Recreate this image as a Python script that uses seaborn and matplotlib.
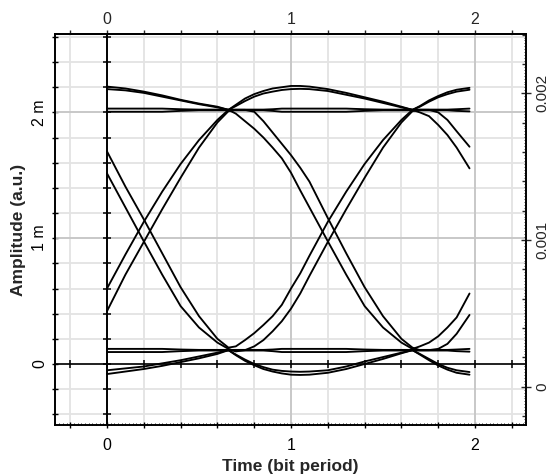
import numpy as np
import pandas as pd
import matplotlib
matplotlib.use("Agg")
import matplotlib.pyplot as plt
import seaborn as sns
from matplotlib.ticker import FixedLocator, FuncFormatter, NullLocator, NullFormatter

# ---------------- data (time in bit periods, amplitude in milli a.u.) ----------------
T = [0.0, 0.1, 0.2, 0.3, 0.4, 0.5, 0.6, 0.66, 0.7, 0.75, 0.8, 0.85, 0.9, 0.95, 1.0,
     1.05, 1.1, 1.2, 1.3, 1.4, 1.5, 1.6, 1.66, 1.7, 1.75, 1.8, 1.85, 1.9, 1.97]

OVER_A = [2.205, 2.19, 2.165, 2.135, 2.10, 2.07, 2.045, 2.02, 2.06, 2.11, 2.145, 2.17, 2.19, 2.20, 2.21,
          2.21, 2.205, 2.185, 2.155, 2.12, 2.085, 2.045, 2.02, 2.05, 2.095, 2.13, 2.16, 2.18, 2.195]
OVER_B = [2.185, 2.175, 2.155, 2.125, 2.095, 2.065, 2.04, 2.02, 2.05, 2.09, 2.125, 2.15, 2.165, 2.178, 2.185,
          2.187, 2.185, 2.17, 2.14, 2.11, 2.075, 2.04, 2.02, 2.045, 2.085, 2.12, 2.145, 2.165, 2.18]
RISE_FALL_A = [0.60, 0.87, 1.13, 1.37, 1.59, 1.78, 1.94, 2.02, 1.99, 1.93, 1.87, 1.80, 1.72, 1.635, 1.52,
               1.38, 1.245, 0.975, 0.71, 0.46, 0.29, 0.17, 0.12, 0.14, 0.17, 0.22, 0.29, 0.37, 0.56]
RISE_FALL_B = [0.42, 0.71, 0.97, 1.23, 1.48, 1.72, 1.92, 2.01, 2.02, 2.02, 2.005, 1.93, 1.84, 1.75, 1.66,
               1.56, 1.45, 1.16, 0.88, 0.61, 0.38, 0.20, 0.13, 0.11, 0.11, 0.12, 0.16, 0.24, 0.39]
FALL_RISE_A = [1.69, 1.41, 1.15, 0.88, 0.61, 0.38, 0.20, 0.13, 0.14, 0.19, 0.245, 0.31, 0.38, 0.47, 0.60,
               0.72, 0.86, 1.13, 1.37, 1.59, 1.78, 1.94, 2.02, 2.0, 1.97, 1.90, 1.82, 1.72, 1.555]
FALL_RISE_B = [1.515, 1.245, 0.975, 0.71, 0.46, 0.29, 0.17, 0.12, 0.10, 0.11, 0.14, 0.19, 0.26, 0.34, 0.44,
               0.56, 0.70, 0.97, 1.23, 1.48, 1.72, 1.92, 2.01, 2.02, 2.02, 2.0, 1.94, 1.85, 1.727]
UNDER_A = [-0.05, -0.035, -0.02, 0.005, 0.03, 0.06, 0.09, 0.11, 0.075, 0.035, 0.0, -0.025, -0.045, -0.055, -0.06,
           -0.062, -0.06, -0.05, -0.02, 0.02, 0.055, 0.09, 0.11, 0.08, 0.04, 0.0, -0.03, -0.05, -0.064]
UNDER_B = [-0.08, -0.06, -0.04, -0.015, 0.015, 0.045, 0.08, 0.11, 0.07, 0.025, -0.01, -0.04, -0.06, -0.075, -0.085,
           -0.087, -0.085, -0.07, -0.04, 0.0, 0.04, 0.085, 0.11, 0.075, 0.03, -0.012, -0.045, -0.07, -0.085]
HIGH_A = [2.03, 2.03, 2.03, 2.03, 2.025, 2.022, 2.022, 2.022, 2.022, 2.022, 2.022, 2.022, 2.025, 2.03, 2.03,
          2.03, 2.03, 2.03, 2.03, 2.025, 2.022, 2.022, 2.022, 2.022, 2.022, 2.022, 2.022, 2.025, 2.03]
HIGH_B = [2.005, 2.005, 2.005, 2.005, 2.012, 2.017, 2.017, 2.017, 2.017, 2.017, 2.017, 2.017, 2.012, 2.005, 2.005,
          2.005, 2.005, 2.005, 2.005, 2.012, 2.017, 2.017, 2.017, 2.017, 2.017, 2.017, 2.017, 2.012, 2.008]
LOW_A = [0.12, 0.12, 0.12, 0.12, 0.115, 0.112, 0.112, 0.112, 0.112, 0.112, 0.112, 0.112, 0.115, 0.12, 0.12,
         0.12, 0.12, 0.12, 0.12, 0.115, 0.112, 0.112, 0.112, 0.112, 0.112, 0.112, 0.112, 0.115, 0.12]
LOW_B = [0.095, 0.095, 0.095, 0.095, 0.102, 0.107, 0.107, 0.107, 0.107, 0.107, 0.107, 0.107, 0.102, 0.095, 0.095,
         0.095, 0.095, 0.095, 0.095, 0.102, 0.107, 0.107, 0.107, 0.107, 0.107, 0.107, 0.107, 0.102, 0.098]

TRACES = {
    "over_a": OVER_A, "over_b": OVER_B,
    "rise_fall_a": RISE_FALL_A, "rise_fall_b": RISE_FALL_B,
    "fall_rise_a": FALL_RISE_A, "fall_rise_b": FALL_RISE_B,
    "under_a": UNDER_A, "under_b": UNDER_B,
    "high_a": HIGH_A, "high_b": HIGH_B,
    "low_a": LOW_A, "low_b": LOW_B,
}

X_TICK_LABELS = {0: "0", 1: "1", 2: "2"}
Y_TICK_LABELS = {0: "0", 1: "1 m", 2: "2 m"}
Y2_TICK_LABELS = {0: "0", 1: "0.001", 2: "0.002"}
X_TITLE = "Time (bit period)"
Y_TITLE = "Amplitude (a.u.)"

# ---------------- styling ----------------
sns.set_theme(style="white")
plt.rcParams["font.family"] = ["Liberation Sans", "DejaVu Sans"]

df = pd.concat(
    [pd.DataFrame({"t": T, "amp": vals, "trace": name}) for name, vals in TRACES.items()],
    ignore_index=True,
)

W, H = 552, 474
fig = plt.figure(figsize=(W / 100, H / 100), dpi=100)
fig.patch.set_facecolor("white")
ax = fig.add_axes([55 / W, 49 / H, 471 / W, 391 / H])
ax.set_facecolor("white")

XLIM = (-0.2826, 2.277)
YLIM = (-0.485, 2.623)

# grid
xgrid = np.round(np.arange(-0.2, 2.21, 0.2), 2)
ygrid = np.round(np.arange(-0.4, 2.61, 0.2), 2)
for xv in xgrid:
    ax.axvline(xv, color="#e3e3e3", lw=1.3, zorder=0.5)
for yv in ygrid:
    ax.axhline(yv, color="#e3e3e3", lw=1.3, zorder=0.5)
for xv in (1, 2):
    ax.axvline(xv, color="#c6c6c6", lw=1.3, zorder=0.6)
for yv in (1, 2):
    ax.axhline(yv, color="#c6c6c6", lw=1.3, zorder=0.6)

# origin lines with their ticks
ax.axvline(0, color="black", lw=1.4, zorder=3)
ax.axhline(0, color="black", lw=1.2, zorder=3)
ax.plot(np.zeros_like(ygrid), ygrid, ls="none", marker="_", ms=6, mew=1.1, color="black", zorder=3)
ax.plot(xgrid, np.zeros_like(xgrid), ls="none", marker="|", ms=6, mew=1.1, color="black", zorder=3)

# traces
sns.lineplot(data=df, x="t", y="amp", units="trace", estimator=None, color="black",
             linewidth=1.35, legend=False, ax=ax, zorder=4)

ax.set_xlim(*XLIM)
ax.set_ylim(*YLIM)
ax.set_xlabel("")
ax.set_ylabel("")


def int_label(mapping):
    def f(v, pos):
        r = int(round(v))
        if abs(v - r) < 1e-6 and r in mapping:
            return mapping[r]
        return ""
    return f


ax.xaxis.set_major_locator(FixedLocator(xgrid))
ax.xaxis.set_major_formatter(FuncFormatter(int_label(X_TICK_LABELS)))
ax.xaxis.set_minor_locator(FixedLocator(np.arange(-0.28, 2.28, 0.02)))
ax.yaxis.set_major_locator(FixedLocator(ygrid))
ax.yaxis.set_major_formatter(FuncFormatter(int_label(Y_TICK_LABELS)))
ax.yaxis.set_minor_locator(NullLocator())

ax.tick_params(axis="x", which="major", direction="inout", length=4, width=1.0,
               bottom=True, top=False, labelsize=11.5, pad=7, colors="black")
ax.tick_params(axis="x", which="minor", direction="in", length=1.5, width=0.7,
               bottom=True, top=False)
ax.tick_params(axis="y", which="major", direction="inout", length=4, width=1.0,
               left=True, right=False, labelsize=11.5, pad=3.5, labelrotation=90, colors="black")
for lab in ax.get_yticklabels():
    lab.set_va("center")

for sp in ax.spines.values():
    sp.set_color("black")
    sp.set_linewidth(1.2)
    sp.set_visible(True)

# top axis
top = ax.secondary_xaxis("top")
top.xaxis.set_major_locator(FixedLocator(xgrid))
top.xaxis.set_major_formatter(FuncFormatter(int_label(X_TICK_LABELS)))
top.xaxis.set_minor_locator(NullLocator())
top.tick_params(axis="x", direction="out", length=3, width=1.0, labelsize=11.5, pad=2)
top.spines["top"].set_linewidth(1.2)

# right axis
ax2 = ax.twinx()
ax2.set_ylim(-0.000261, 0.002404)
ax2.yaxis.set_major_locator(FixedLocator([0.0, 0.001, 0.002]))
ax2.yaxis.set_major_formatter(FuncFormatter(lambda v, p: Y2_TICK_LABELS.get(int(round(v * 1000)), "")))
ax2.yaxis.set_minor_locator(FixedLocator(np.arange(-0.0002, 0.00241, 0.0002)))
ax2.tick_params(axis="y", which="major", direction="inout", length=7, width=1.0,
                labelsize=11, pad=3, labelrotation=90)
ax2.tick_params(axis="y", which="minor", direction="in", length=3, width=1.0)
for lab in ax2.get_yticklabels():
    lab.set_va("center")
for sp in ax2.spines.values():
    sp.set_color("black")
    sp.set_linewidth(1.2)

tiny = ax2.secondary_yaxis("right")
tiny.yaxis.set_major_locator(FixedLocator(np.arange(-0.00026, 0.0024, 0.00002)))
tiny.yaxis.set_major_formatter(NullFormatter())
tiny.yaxis.set_minor_locator(NullLocator())
tiny.tick_params(axis="y", direction="in", length=1.5, width=0.6)

# titles
fig.text(290 / W, 1 - 466 / H, X_TITLE, ha="center", va="center", fontsize=12.5, fontweight="bold")
fig.text(19 / W, 1 - 230 / H, Y_TITLE, ha="center", va="center", rotation=90,
         fontsize=12.5, fontweight="bold")

fig.savefig("out.png", dpi=100, facecolor="white")
